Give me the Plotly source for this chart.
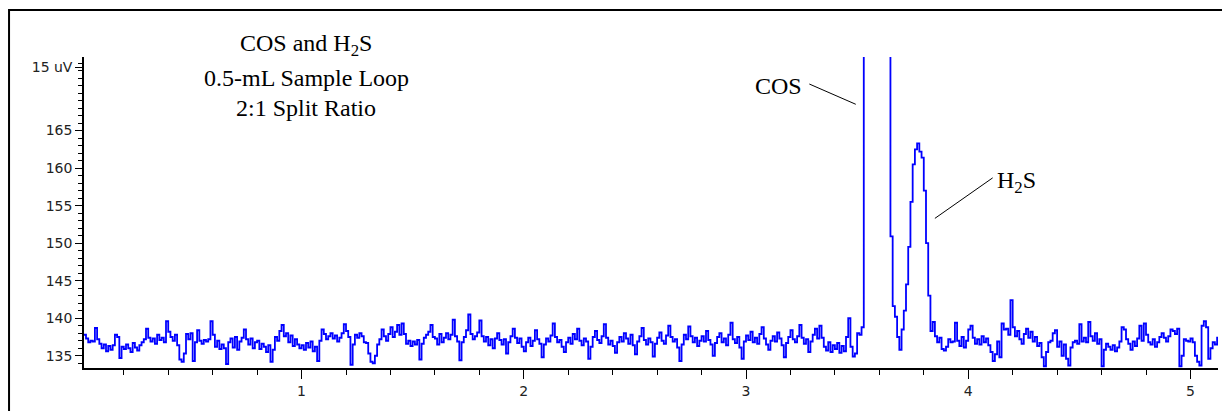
import numpy as np
import plotly.graph_objects as go

# ---- data (detector signal) ----
time_start = 0.02   # min
time_step = 0.01    # min

signal_min0 = [
    137.8, 137.3, 136.8, 137.0, 136.9, 138.7, 137.2, 136.6,
    136.0, 136.5, 135.6, 136.3, 135.8, 136.4, 137.8, 137.5, 134.7, 136.2,
    135.9, 136.5, 136.0, 135.5, 136.7, 136.1, 135.7, 136.4, 136.8, 137.2,
    138.6, 137.4, 136.9, 137.3, 136.6, 137.8, 137.1, 137.4, 136.8, 139.6,
    138.2, 137.5, 137.0, 137.8, 136.4, 134.5, 134.2, 135.3, 137.9, 137.2,
    138.0, 134.3, 136.8, 138.4, 137.0, 136.6, 137.1, 136.9, 137.2, 139.6,
    137.8, 136.2, 137.0, 135.9, 136.5, 136.0, 133.9, 136.8, 137.3, 136.1,
    137.5, 135.8, 136.9, 137.4, 138.5, 137.2, 136.5, 137.3, 136.0, 136.8,
    137.0, 135.9, 136.6, 136.2, 135.5, 136.4, 134.2, 135.8, 137.5, 137.0,
    138.3, 139.1, 137.6, 138.0, 136.8, 137.7, 136.3, 137.2, 136.5, 136.0,
]
signal_min1 = [
    136.4, 135.8, 136.7, 136.1, 136.9, 135.6, 136.2, 134.3, 137.0, 138.5,
    137.9, 137.2, 137.6, 138.0, 137.3, 137.7, 136.9, 137.4, 138.0, 139.2,
    138.3, 137.5, 133.8, 136.5, 137.8, 137.4, 138.0, 137.6, 136.8, 136.7,
    135.3, 134.2, 134.0, 135.0, 136.5, 137.2, 138.5, 137.6, 137.0, 137.9,
    138.8, 137.5, 138.2, 139.1, 137.8, 139.3, 137.9, 136.6, 137.0, 136.3,
    136.9, 136.5, 137.1, 134.5, 136.6, 137.4, 137.8, 138.2, 139.1, 137.5,
    137.3, 136.5, 137.9, 136.8, 137.4, 138.0, 137.2, 137.8, 139.8, 137.6,
    136.9, 134.4, 136.8, 137.5, 138.4, 140.5, 137.9, 137.2, 137.6, 138.1,
    139.7, 137.6, 136.9, 137.5, 136.4, 137.2, 136.0, 137.3, 138.0, 137.1,
    136.5, 137.2, 135.3, 136.8, 137.6, 138.6, 137.4, 136.7, 137.3, 136.2,
]
signal_min2 = [
    135.6, 136.8, 137.4, 136.3, 137.0, 138.4, 137.2, 136.6, 134.8, 136.5,
    137.3, 136.9, 137.7, 139.3, 137.5, 136.8, 137.1, 136.2, 135.5, 136.8,
    137.4, 136.6, 137.9, 137.2, 138.6, 137.0, 136.4, 137.3, 136.9, 134.6,
    136.2, 137.5, 138.3, 137.1, 136.7, 137.6, 139.2, 137.4, 136.5, 137.0,
    136.3, 135.4, 136.8, 137.5, 136.9, 138.0, 137.3, 136.6, 137.8, 136.4,
    135.2, 136.9, 137.6, 138.7, 137.1, 136.5, 137.3, 136.8, 134.9, 136.6,
    137.4, 138.1, 137.0, 136.6, 137.7, 139.0, 137.5, 136.9, 137.2, 136.1,
    134.3, 136.5, 137.8, 137.2, 138.9, 137.6, 136.8, 137.4, 136.3, 137.0,
    137.6, 136.9, 138.3, 137.1, 136.5, 135.0, 136.7, 137.5, 138.0, 136.8,
    137.3, 136.4, 137.8, 139.4, 137.2, 136.7, 137.5, 136.1, 134.6, 136.9,
]
signal_min3 = [
    137.7, 137.1, 138.2, 136.8, 137.4, 136.6, 137.9, 138.8, 137.3, 136.5,
    135.8, 137.0, 137.6, 136.9, 138.1, 137.3, 136.4, 134.8, 136.7, 137.5,
    138.4, 137.2, 136.8, 137.6, 139.1, 137.4, 136.6, 137.2, 135.5, 136.9,
    137.8, 138.6, 137.3, 139.0, 137.4, 136.2, 135.7, 136.8, 135.5, 136.4,
    135.9, 136.7, 135.4, 136.3, 135.6, 137.5, 140.0, 136.2, 134.9, 135.3,
    138.0, 137.8, 138.8, 400.0, 400.0, 400.0, 400.0, 400.0, 400.0, 400.0,
    400.0, 400.0, 400.0, 400.0, 400.0, 150.9, 141.6, 140.2, 137.5, 135.8,
    138.5, 141.0, 144.5, 149.5, 155.5, 160.5, 162.5, 163.3, 162.2, 161.4,
    157.0, 150.0, 143.0, 138.3, 139.5, 137.6, 136.8, 137.4, 135.9, 135.7,
    136.2, 137.2, 136.8, 136.9, 139.4, 137.0, 136.3, 137.5, 136.1, 137.0,
]
signal_min4 = [
    138.5, 139.0, 137.4, 136.6, 137.2, 136.5, 137.6, 136.8, 137.3, 136.4,
    135.5, 134.3, 135.2, 136.9, 134.8, 139.3, 138.5, 138.6, 137.8, 142.4,
    138.8, 137.6, 138.3, 137.2, 136.6, 137.9, 138.6, 137.4, 138.2, 136.9,
    137.5, 136.3, 136.7, 134.8, 133.6, 135.5, 136.8, 137.0, 138.0, 138.4,
    136.2, 136.9, 135.0, 136.5, 134.6, 133.7, 136.1, 136.8, 137.0, 136.6,
    139.2, 136.9, 137.4, 136.8, 139.5, 137.6, 137.0, 138.0, 136.6, 137.2,
    133.6, 135.8, 136.6, 136.2, 135.8, 136.4, 135.6, 136.1, 136.9, 138.8,
    138.5, 137.2, 136.6, 135.8, 136.9, 136.3, 137.3, 139.0, 137.0, 139.3,
    137.8, 136.8, 136.5, 137.2, 136.2, 136.8, 137.5, 138.0, 137.4, 136.9,
    137.6, 138.5, 138.3, 137.9, 138.6, 133.6, 135.0, 137.2, 137.0, 136.9,
]
signal_min5 = [
    137.3, 136.8, 135.0, 134.2, 133.7, 139.0, 139.6, 138.8, 134.6, 136.0,
    136.8, 136.5, 137.4, 137.2,
]

x_tick_values = [1, 2, 3, 4, 5]
y_tick_values = [135, 140, 145, 150, 155, 160, 165, 173.4]
y_tick_labels = ["135", "140", "145", "150", "155", "160", "165", "15 uV"]

title_lines = ["COS and H<sub>2</sub>S", "0.5-mL Sample Loop", "2:1 Split Ratio"]
peak_labels = ["COS", "H<sub>2</sub>S"]

# ---- build ----
signal = np.array(signal_min0 + signal_min1 + signal_min2 + signal_min3
                  + signal_min4 + signal_min5)
time = time_start + time_step * np.arange(len(signal))

fig = go.Figure()
fig.add_trace(go.Scatter(
    x=time, y=signal, mode="lines",
    line=dict(color="#0000ff", width=1.8, shape="hv"),
    hoverinfo="skip", showlegend=False,
))

serif = "Liberation Serif, Times New Roman, serif"
sans = "DejaVu Sans, Verdana, sans-serif"

# title block (paper y so the first line may sit above the plot area)
for txt, yp in zip(title_lines, [1.037, 0.934, 0.835]):
    fig.add_annotation(x=1.02, y=yp, xref="x", yref="paper", text=txt,
                       showarrow=False, xanchor="center", yanchor="middle",
                       font=dict(family=serif, size=24, color="black"))

# peak labels with leader lines
fig.add_annotation(x=3.144, y=171.0, xref="x", yref="y", text=peak_labels[0],
                   showarrow=False, xanchor="center", yanchor="middle",
                   font=dict(family=serif, size=24, color="black"))
fig.add_annotation(x=4.215, y=158.1, xref="x", yref="y", text=peak_labels[1],
                   showarrow=False, xanchor="center", yanchor="middle",
                   font=dict(family=serif, size=24, color="black"))
fig.add_shape(type="line", xref="x", yref="y", x0=3.285, y0=171.2,
              x1=3.494, y1=168.5, line=dict(color="black", width=1))
fig.add_shape(type="line", xref="x", yref="y", x0=3.850, y0=153.3,
              x1=4.110, y1=158.7, line=dict(color="black", width=1))

# outer frame (left and top edges visible)
fig.add_shape(type="rect", xref="paper", yref="paper",
              x0=-0.0661, x1=1.2, y0=-0.3, y1=1.151,
              line=dict(color="black", width=2), layer="above")

fig.update_layout(
    width=1222, height=411,
    margin=dict(l=84, r=4, t=57, b=43),
    paper_bgcolor="white", plot_bgcolor="white",
    font=dict(family=sans, size=13, color="#222"),
    xaxis=dict(
        range=[0.021, 5.124], tickmode="array", tickvals=x_tick_values,
        showline=True, linecolor="black", linewidth=1.5,
        ticks="outside", ticklen=9, tickwidth=1.2, tickcolor="black",
        showgrid=False, zeroline=False,
        minor=dict(tickmode="linear", tick0=0, dtick=0.2, ticks="outside",
                   ticklen=5, tickwidth=1, tickcolor="black", showgrid=False),
        tickfont=dict(family=sans, size=14, color="#222"),
    ),
    yaxis=dict(
        range=[133.37, 174.8], tickmode="array", tickvals=y_tick_values,
        ticktext=y_tick_labels,
        showline=True, linecolor="black", linewidth=1.5,
        ticks="outside", ticklen=7, tickwidth=1.2, tickcolor="black",
        showgrid=False, zeroline=False,
        minor=dict(tickmode="linear", tick0=0, dtick=1, ticks="outside",
                   ticklen=4, tickwidth=1, tickcolor="black", showgrid=False),
        tickfont=dict(family=sans, size=14, color="#222"),
    ),
)

fig.write_html("out.html")
